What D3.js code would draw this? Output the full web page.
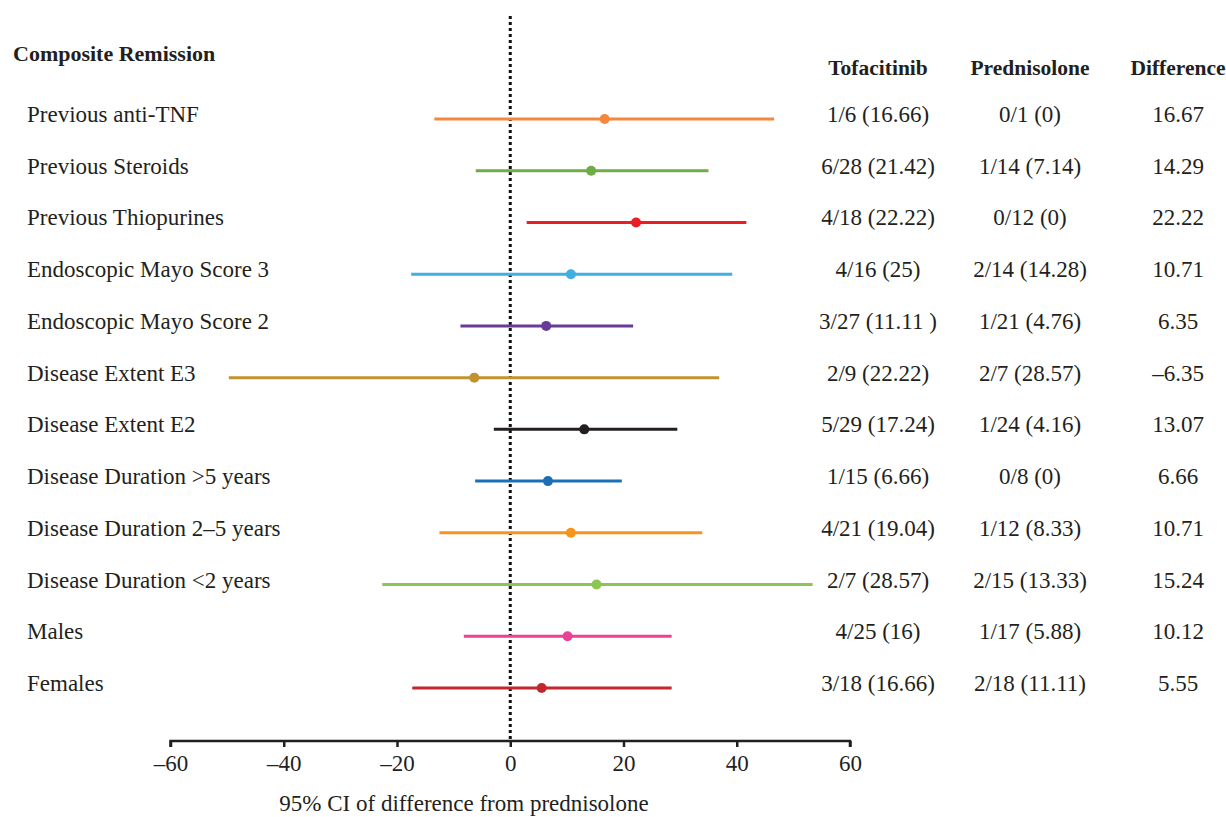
<!DOCTYPE html>
<html>
<head>
<meta charset="utf-8">
<script src="https://cdn.jsdelivr.net/npm/d3@7"></script>
<style>
  body { margin: 0; background: #fff; }
  svg text { font-family: "Liberation Serif", "DejaVu Serif", serif; fill: #231f20; }
</style>
</head>
<body>
<div id="chart"></div>
<script>
var subgroups = ["Previous anti-TNF", "Previous Steroids", "Previous Thiopurines",
  "Endoscopic Mayo Score 3", "Endoscopic Mayo Score 2", "Disease Extent E3",
  "Disease Extent E2", "Disease Duration >5 years", "Disease Duration 2–5 years",
  "Disease Duration <2 years", "Males", "Females"];
var tofacitinib = ["1/6 (16.66)", "6/28 (21.42)", "4/18 (22.22)", "4/16 (25)", "3/27 (11.11 )",
  "2/9 (22.22)", "5/29 (17.24)", "1/15 (6.66)", "4/21 (19.04)", "2/7 (28.57)", "4/25 (16)", "3/18 (16.66)"];
var prednisolone = ["0/1 (0)", "1/14 (7.14)", "0/12 (0)", "2/14 (14.28)", "1/21 (4.76)",
  "2/7 (28.57)", "1/24 (4.16)", "0/8 (0)", "1/12 (8.33)", "2/15 (13.33)", "1/17 (5.88)", "2/18 (11.11)"];
var difference = [16.67, 14.29, 22.22, 10.71, 6.35, -6.35, 13.07, 6.66, 10.71, 15.24, 10.12, 5.55];
var ciLow = [-13.4, -6.1, 2.9, -17.5, -8.8, -49.7, -2.9, -6.2, -12.5, -22.6, -8.2, -17.3];
var ciHigh = [46.6, 35.0, 41.7, 39.2, 21.7, 36.9, 29.5, 19.7, 33.9, 53.4, 28.5, 28.5];
var colours = ["#f4873a", "#6fac46", "#ec1c24", "#3faee2", "#6a3b96", "#c09330",
  "#231f20", "#1b6fb6", "#f7941d", "#8cc652", "#ec3f96", "#c1272d"];
var xTicks = [-60, -40, -20, 0, 20, 40, 60];
var columnHeads = ["Tofacitinib", "Prednisolone", "Difference"];

var width = 1226, height = 817;

var svg = d3.select("#chart").append("svg")
  .attr("width", width)
  .attr("height", height);

var x = d3.scaleLinear().domain([-60, 60]).range([170.5, 850]);
var y = d3.scalePoint().domain(subgroups).range([119, 688]);

// column centres for the table on the right
var colX = [878, 1030, 1178];

var rows = subgroups.map(function(name, i) {
  return {
    name: name,
    tofa: tofacitinib[i],
    pred: prednisolone[i],
    diff: difference[i],
    lo: ciLow[i],
    hi: ciHigh[i],
    colour: colours[i]
  };
});

// reference line at zero
svg.append("line")
  .attr("x1", x(0)).attr("x2", x(0))
  .attr("y1", 16).attr("y2", 741)
  .attr("stroke", "#111")
  .attr("stroke-width", 3)
  .attr("stroke-dasharray", "3,3");

// x axis
var axis = svg.append("g")
  .attr("transform", "translate(0,741)")
  .call(d3.axisBottom(x).tickValues(xTicks).tickSize(6).tickPadding(8)
    .tickFormat(function(d) { return d < 0 ? "–" + Math.abs(d) : d; }));
axis.select(".domain").attr("stroke", "#231f20").attr("stroke-width", 2.5)
  .attr("d", "M" + x(-60) + ",6V0H" + x(60) + "V6");
axis.selectAll(".tick line").attr("stroke", "#231f20").attr("stroke-width", 2.5);
axis.selectAll(".tick text")
  .attr("font-size", 23)
  .attr("font-family", "Liberation Serif, serif")
  .attr("fill", "#231f20");

svg.append("text")
  .attr("x", 464).attr("y", 811)
  .attr("text-anchor", "middle")
  .attr("font-size", 23)
  .text("95% CI of difference from prednisolone");

svg.append("text")
  .attr("x", 13).attr("y", 61)
  .attr("font-size", 22)
  .attr("font-weight", "bold")
  .text("Composite Remission");

svg.selectAll("text.head")
  .data(columnHeads)
  .enter().append("text")
  .attr("class", "head")
  .attr("x", function(d, i) { return colX[i]; })
  .attr("y", 75)
  .attr("text-anchor", "middle")
  .attr("font-size", 21.5)
  .attr("font-weight", "bold")
  .text(function(d) { return d; });

var row = svg.selectAll("g.row")
  .data(rows)
  .enter().append("g")
  .attr("class", "row")
  .attr("transform", function(d) { return "translate(0," + y(d.name) + ")"; });

row.append("text")
  .attr("x", 27).attr("y", 3)
  .attr("font-size", 23)
  .text(function(d) { return d.name; });

row.append("line")
  .attr("x1", function(d) { return x(d.lo); })
  .attr("x2", function(d) { return x(d.hi); })
  .attr("stroke", function(d) { return d.colour; })
  .attr("stroke-width", 3);

row.append("circle")
  .attr("cx", function(d) { return x(d.diff); })
  .attr("r", 5)
  .attr("fill", function(d) { return d.colour; });

row.append("text")
  .attr("x", colX[0]).attr("y", 3)
  .attr("text-anchor", "middle")
  .attr("font-size", 23)
  .text(function(d) { return d.tofa; });

row.append("text")
  .attr("x", colX[1]).attr("y", 3)
  .attr("text-anchor", "middle")
  .attr("font-size", 23)
  .text(function(d) { return d.pred; });

row.append("text")
  .attr("x", colX[2]).attr("y", 3)
  .attr("text-anchor", "middle")
  .attr("font-size", 23)
  .text(function(d) { return d.diff < 0 ? "–" + Math.abs(d.diff).toFixed(2) : d.diff.toFixed(2); });
</script>
</body>
</html>
